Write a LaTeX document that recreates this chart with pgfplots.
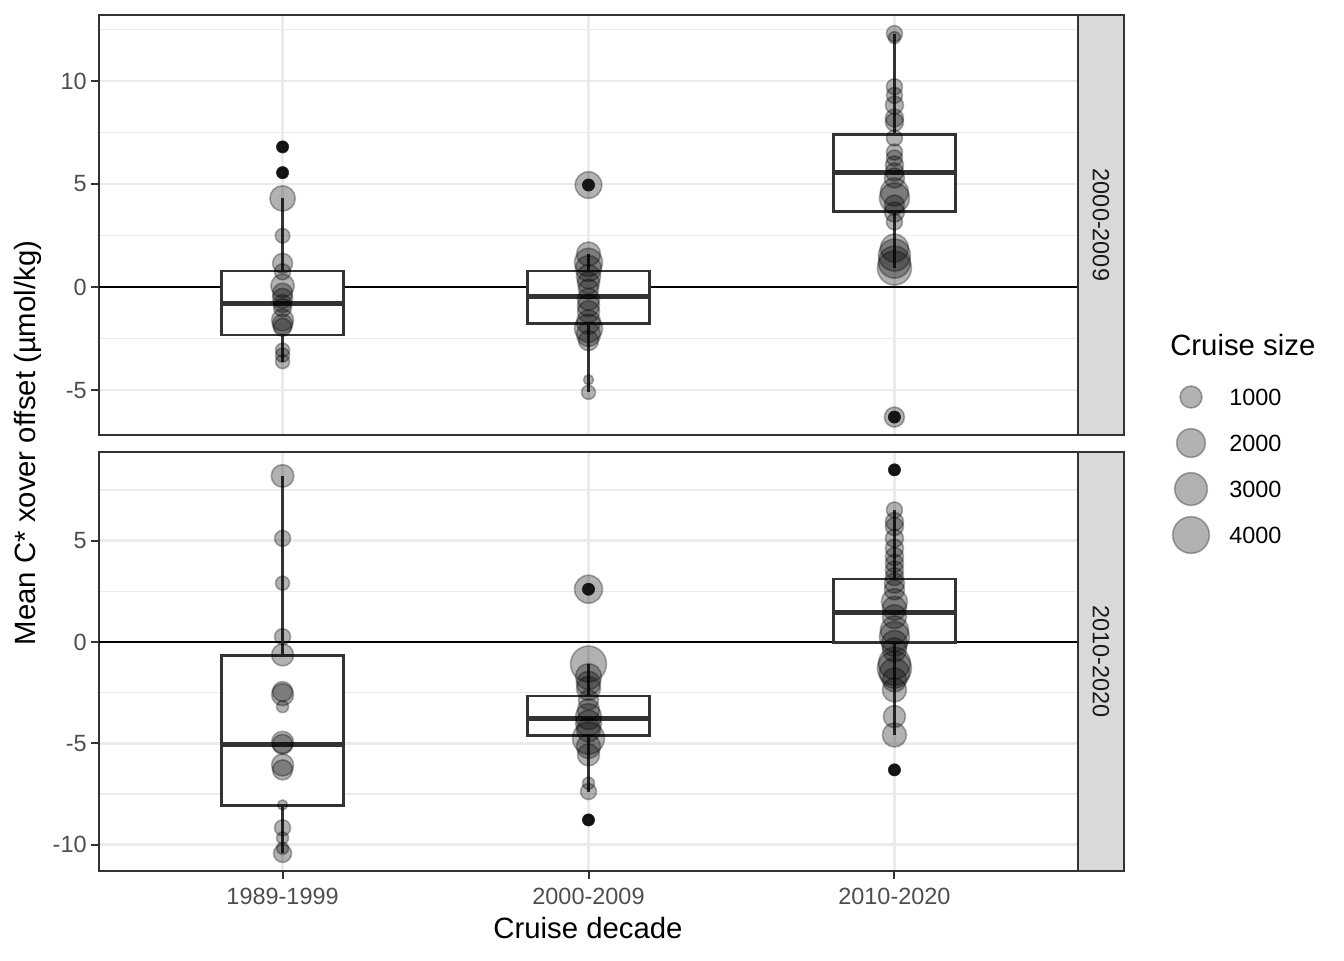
\documentclass[border=0pt]{standalone}
\usepackage{pgfplots}
\pgfplotsset{compat=1.18}
\usepackage{pgfplotstable}
\usepgfplotslibrary{statistics}
\usepackage{fontspec}
\setmainfont{Liberation Sans}
\definecolor{gridc}{HTML}{EBEBEB}
\definecolor{g20}{HTML}{333333}
\definecolor{g30}{HTML}{4D4D4D}
\definecolor{g10}{HTML}{1A1A1A}
\definecolor{stripc}{HTML}{D9D9D9}
\newcommand{\ticksize}{\fontsize{17.6}{20}\selectfont}
\newcommand{\titlesize}{\fontsize{22}{26}\selectfont}

\pgfplotstableread[row sep=\\]{
x y r\\
1 6.8 5\\
1 5.55 5\\
1 4.3 12.7\\
1 2.49 7.3\\
1 1.15 10\\
1 0.74 8\\
1 0.06 11.7\\
1 -0.3 10\\
1 -0.55 10\\
1 -0.8 9\\
1 -1.0 9\\
1 -1.6 11\\
1 -1.8 10\\
1 -1.95 9\\
1 -3.06 7\\
1 -3.3 7\\
1 -3.62 7\\
2 4.95 13.3\\
2 1.6 12\\
2 1.2 14\\
2 0.9 13\\
2 0.5 12\\
2 0.2 11\\
2 -0.1 10\\
2 -0.6 11\\
2 -0.9 11\\
2 -1.2 11\\
2 -1.7 12\\
2 -2.0 14\\
2 -2.3 12\\
2 -2.6 10\\
2 -4.5 5\\
2 -5.11 7\\
3 12.3 8\\
3 12.1 6\\
3 9.72 8\\
3 9.3 8\\
3 8.83 9\\
3 8.2 9\\
3 8.0 9\\
3 7.23 8\\
3 6.55 8\\
3 6.26 8\\
3 5.92 9\\
3 5.58 9\\
3 5.29 10\\
3 4.61 14\\
3 4.32 15\\
3 3.98 10\\
3 3.64 10\\
3 3.16 8\\
3 1.89 14\\
3 1.55 16\\
3 1.21 16\\
3 0.92 17\\
3 -6.31 10\\
}\toppts

\pgfplotstableread[row sep=\\]{
x y r\\
1 8.19 11.3\\
1 5.11 8\\
1 2.9 7\\
1 0.26 8\\
1 -0.64 11\\
1 -2.45 10\\
1 -2.6 11\\
1 -3.19 6\\
1 -4.95 11\\
1 -5.05 10\\
1 -6.07 11\\
1 -6.31 10\\
1 -8.04 5\\
1 -9.17 8\\
1 -9.67 6\\
1 -10.18 6\\
1 -10.43 9\\
2 2.6 14\\
2 -1.09 18\\
2 -1.71 13\\
2 -2.04 12\\
2 -2.29 12\\
2 -2.86 10\\
2 -3.35 11\\
2 -3.68 13\\
2 -4.01 13\\
2 -4.34 12\\
2 -4.75 16\\
2 -5.16 12\\
2 -5.57 11\\
2 -6.97 6\\
2 -7.38 8\\
2 -8.78 5\\
3 8.49 5\\
3 6.51 8\\
3 5.94 9\\
3 5.69 9\\
3 5.11 9\\
3 4.62 9\\
3 4.21 9\\
3 3.88 9\\
3 3.55 9\\
3 3.22 9\\
3 2.9 10\\
3 2.57 10\\
3 1.99 13\\
3 1.66 12\\
3 1.25 12\\
3 0.59 14\\
3 0.26 15\\
3 -0.07 13\\
3 -0.39 12\\
3 -1.05 16\\
3 -1.3 17\\
3 -1.54 15\\
3 -1.87 12\\
3 -2.37 12\\
3 -3.68 11\\
3 -4.59 12\\
3 -6.31 5\\
}\botpts

\pgfplotstableread[row sep=\\]{
x y r\\
0 3 11\\
0 2 14.35\\
0 1 16.35\\
0 0 18.35\\
}\legpts

\pgfplotsset{
  panel/.style={
    scale only axis, width=734.25pt,
    xmin=0.4, xmax=3.6,
    xtick={1,2,3},
    axis line style={g20, line width=0.9pt},
    grid=both,
    major grid style={gridc, line width=2.1pt},
    minor grid style={gridc, line width=1.05pt},
    tick align=outside,
    major tick length=5.75pt, minor tick length=0pt,
    tick style={g20, line width=1.5pt},
    ytick pos=left, xtick pos=bottom,
    tick label style={font=\ticksize, text=g30},
    xticklabel style={yshift=-3.5pt},
    /pgf/number format/assume math mode=true,
    boxplot/draw direction=y,
    clip=true,
  },
  bx/.style={draw=g20, line width=2pt, fill=white, solid, line join=miter, mark=none,
    boxplot/box extend=0.4, boxplot/whisker extend=0,
    boxplot/every median/.style={line width=3.8pt}},
  pts/.style={scatter, only marks, mark=*, point meta=y,
    scatter/use mapped color={draw=black, fill=black},
    mark options={fill opacity=0.3, draw opacity=0.3, line width=1.2pt},
    visualization depends on={\thisrow{r}\as\rr},
    scatter/@pre marker code/.append style={/tikz/mark size=0.75*\rr},
  },
  outl/.style={only marks, mark=*, mark size=4.6pt, mark options={fill=black!88, draw=black!88}},
}

\begin{document}
\begin{tikzpicture}
\path[use as bounding box] (0,0) rectangle (1008pt,-720pt);

% top panel
\begin{axis}[panel, name=top, at={(74.25pt,-11.25pt)}, anchor=north west,
  height=315pt, ymin=-7.18, ymax=13.2,
  ytick={-5,0,5,10}, yticklabels={-5,0,5,10},
  minor ytick={-7.5,-2.5,2.5,7.5,12.5},
  xticklabels={}, xtick style={draw=none}]
\addplot[black, line width=1.5pt] coordinates {(0.4,0) (3.6,0)};
\addplot[bx, boxplot prepared={draw position=1, lower whisker=-3.62, lower quartile=-2.33, median=-0.78, upper quartile=0.78, upper whisker=4.3}] coordinates {};
\addplot[bx, boxplot prepared={draw position=2, lower whisker=-5.11, lower quartile=-1.76, median=-0.44, upper quartile=0.78, upper whisker=1.6}] coordinates {};
\addplot[bx, boxplot prepared={draw position=3, lower whisker=0.92, lower quartile=3.66, median=5.55, upper quartile=7.41, upper whisker=12.3}] coordinates {};
\addplot[outl] coordinates {(1,6.8) (1,5.55) (2,4.95) (3,-6.31)};
\addplot[pts] table[x=x, y=y] {\toppts};
\end{axis}

% bottom panel
\begin{axis}[panel, name=bot, at={(74.25pt,-339pt)}, anchor=north west,
  height=314.25pt, ymin=-11.3, ymax=9.37,
  ytick={-10,-5,0,5}, yticklabels={-10,-5,0,5},
  minor ytick={-7.5,-2.5,2.5,7.5},
  xticklabels={1989-1999,2000-2009,2010-2020}]
\addplot[black, line width=1.5pt] coordinates {(0.4,0) (3.6,0)};
\addplot[bx, boxplot prepared={draw position=1, lower whisker=-10.43, lower quartile=-8.07, median=-5.08, upper quartile=-0.67, upper whisker=8.19}] coordinates {};
\addplot[bx, boxplot prepared={draw position=2, lower whisker=-7.38, lower quartile=-4.62, median=-3.77, upper quartile=-2.66, upper whisker=-1.09}] coordinates {};
\addplot[bx, boxplot prepared={draw position=3, lower whisker=-4.59, lower quartile=-0.02, median=1.46, upper quartile=3.11, upper whisker=6.51}] coordinates {};
\addplot[outl] coordinates {(2,2.6) (2,-8.78) (3,8.49) (3,-6.31)};
\addplot[pts] table[x=x, y=y] {\botpts};
\end{axis}

% strips
\draw[g20, line width=0.9pt, fill=stripc] (808.5pt,-11.25pt) rectangle (843pt,-326.25pt);
\node[rotate=-90, text=g10, font=\ticksize] at (825.75pt,-168.75pt) {2000-2009};
\draw[g20, line width=0.9pt, fill=stripc] (808.5pt,-339pt) rectangle (843pt,-653.25pt);
\node[rotate=-90, text=g10, font=\ticksize] at (825.75pt,-496.1pt) {2010-2020};

% axis titles
\node[rotate=90, font=\titlesize] at (21pt,-332.25pt) {Mean C* xover offset (µmol/kg)};
\node[font=\titlesize] at (441pt,-696pt) {Cruise decade};

% legend
\node[font=\titlesize, anchor=west, inner sep=0pt] at (877.5pt,-258.75pt) {Cruise size};
\begin{axis}[scale only axis, width=20pt, height=103.5pt, at={(893.25pt,-349.5pt)}, anchor=center,
  xmin=-1, xmax=1, ymin=0, ymax=3, hide axis, clip=false]
\addplot[pts] table[x=x, y=y] {\legpts};
\end{axis}
\node[font=\ticksize, anchor=west, inner sep=0pt] at (921.75pt,-297.75pt) {1000};
\node[font=\ticksize, anchor=west, inner sep=0pt] at (921.75pt,-332.25pt) {2000};
\node[font=\ticksize, anchor=west, inner sep=0pt] at (921.75pt,-366.75pt) {3000};
\node[font=\ticksize, anchor=west, inner sep=0pt] at (921.75pt,-401.25pt) {4000};
\end{tikzpicture}
\end{document}
